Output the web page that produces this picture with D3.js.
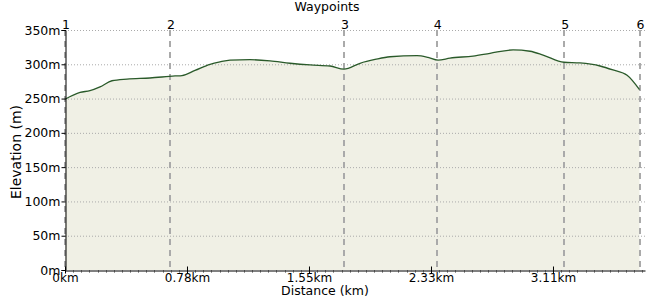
<!DOCTYPE html>
<html><head><meta charset="utf-8">
<script src="https://cdn.jsdelivr.net/npm/d3@7"></script>
<style>body{margin:0;background:#fff}svg{display:block;font-family:"DejaVu Sans",Verdana,sans-serif}</style>
</head><body><svg id="c" width="650" height="300"></svg>
<script>
const distances = [0,0.096,0.159,0.223,0.299,0.395,0.541,0.701,0.745,0.828,0.924,0.987,1.051,1.178,1.306,1.433,1.561,1.688,1.777,1.879,1.975,2.070,2.242,2.312,2.376,2.452,2.599,2.707,2.854,2.962,3.045,3.178,3.280,3.408,3.490,3.580,3.659];
const elevations = [249,259,261.5,267,276,278.5,280,283,283.5,291,300,303.5,306,306.7,305,301.5,299,297.5,293,301.5,307,311,312.5,310,306,309,312,316,321,319,313.5,303,302,297.5,291.7,284,263];
const waypointNames = ["1","2","3","4","5","6"];
const waypointKm = [0,0.669,1.777,2.368,3.180,3.659];
const xTicks = [0,0.777,1.554,2.331,3.108];
const xTickLabels = ["0km","0.78km","1.55km","2.33km","3.11km"];
const yTicks = [0,50,100,150,200,250,300,350];

const svg = d3.select("#c");
const L=65,R=645,T=30,B=270;
const x = d3.scaleLinear().domain([0,3.694]).range([L,R]);
const y = d3.scaleLinear().domain([0,350]).range([B,T]);
const data = distances.map((d,i)=>({d, e:elevations[i]}));

// area fill
svg.append("path").datum(data)
  .attr("d", d3.area().x(p=>x(p.d)).y0(y(0)).y1(p=>y(p.e)).curve(d3.curveMonotoneX))
  .attr("fill","#f0f0e5");

// gridlines
svg.append("g").selectAll("line").data(yTicks.filter(t=>t>0)).join("line")
  .attr("x1",L).attr("x2",R).attr("y1",d=>y(d)+0.5).attr("y2",d=>y(d)+0.5)
  .attr("stroke","#aaa").attr("stroke-width",1).attr("stroke-dasharray","1,2");

// waypoint lines
svg.append("g").selectAll("line").data(waypointKm).join("line")
  .attr("x1",d=>Math.round(x(d))).attr("x2",d=>Math.round(x(d)))
  .attr("y1",T).attr("y2",B)
  .attr("stroke","#aaa").attr("stroke-width",2).attr("stroke-dasharray","6,5");

// elevation line
svg.append("path").datum(data)
  .attr("d", d3.line().x(p=>x(p.d)).y(p=>y(p.e)).curve(d3.curveMonotoneX))
  .attr("fill","none").attr("stroke","#2a5a2a").attr("stroke-width",1.3);

// y axis
const yAxis = svg.append("g").attr("transform",`translate(${L+0.5},0)`)
  .call(d3.axisLeft(y).tickValues(yTicks).tickFormat(d=>d+"m").tickSize(4).tickPadding(1));
yAxis.select(".domain").attr("stroke","#000");
yAxis.selectAll("text").attr("font-size",12.5).attr("font-family","DejaVu Sans").attr("fill","#000");

// x minor ticks
const minor = d3.range(0,3.694,0.777/15);
svg.append("g").selectAll("line").data(minor).join("line")
  .attr("x1",d=>Math.round(x(d))+0.5).attr("x2",d=>Math.round(x(d))+0.5)
  .attr("y1",B).attr("y2",B+3).attr("stroke","#999");

// x axis
const xAxis = svg.append("g").attr("transform",`translate(0,${B+0.5})`)
  .call(d3.axisBottom(x).tickValues(xTicks).tickFormat((d,i)=>xTickLabels[i]).tickSize(3).tickSizeOuter(0).tickPadding(0));
xAxis.select(".domain").attr("stroke","#000");
xAxis.selectAll(".tick line").attr("y1",-4).attr("y2",3);
xAxis.selectAll("text").attr("font-size",12).attr("font-family","DejaVu Sans").attr("fill","#000");

// waypoint labels
svg.append("g").selectAll("text").data(waypointKm).join("text")
  .attr("x",d=>x(d)+1).attr("y",28.5).attr("text-anchor","middle")
  .attr("font-size",12.5).text((d,i)=>waypointNames[i]);

svg.append("text").attr("x",327).attr("y",11).attr("text-anchor","middle").attr("font-size",12.5).text("Waypoints");
svg.append("text").attr("x",325).attr("y",295).attr("text-anchor","middle").attr("font-size",12.5).text("Distance (km)");
svg.append("text").attr("transform","translate(21,152) rotate(-90)").attr("text-anchor","middle").attr("font-size",14).text("Elevation (m)");
</script></body></html>
